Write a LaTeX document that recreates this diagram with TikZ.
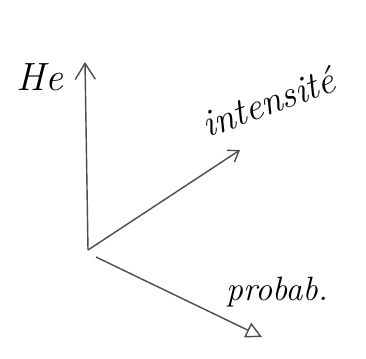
\documentclass[tikz,border=0pt]{standalone}
\usetikzlibrary{arrows.meta}
\begin{document}
\begin{tikzpicture}[x=0.025cm,y=-0.025cm,
		axe/.style={draw=black!70, line width=1pt},
		etiq/.style={font=\fontsize{24}{28}\selectfont\itshape}]
		\useasboundingbox (0,0) rectangle (366,359);

		\coordinate (O) at (88,250);
		\coordinate (Op) at (96,257);
		\coordinate (He) at (85,62);
		\coordinate (Int) at (240,150);
		\coordinate (Pro) at (262,337);

		\draw[axe, -{Straight Barb[length=4mm,width=5mm]}] (O) -- (He);
		\draw[axe, -{Straight Barb[length=2.5mm,width=3.5mm]}] (O) -- (Int);
		\draw[axe, -{Triangle[open,length=4mm,width=4mm]}] (Op) -- (Pro);

		\node[etiq, font=\fontsize{28}{32}\selectfont\itshape] (lHe) at (40,77) {He};
		\node[etiq, font=\fontsize{27}{32}\selectfont\itshape, rotate=20] (lInt) at (268,102) {intensit\'e};
		\node[etiq] (lPro) at (277,292) {probab.};
	\end{tikzpicture}
\end{document}
